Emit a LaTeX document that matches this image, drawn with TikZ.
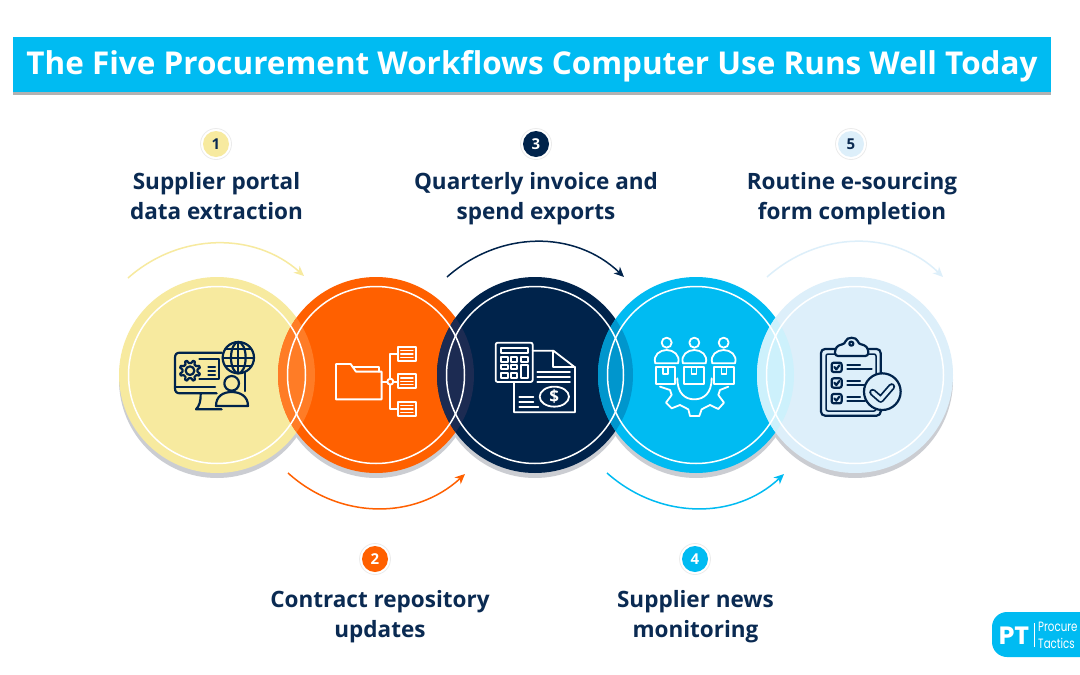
\documentclass[tikz,border=0pt]{standalone}
\usepackage{fontspec}
\setmainfont{Open Sans}
\newfontfamily\popf{Poppins}
\newfontfamily\popn[FakeStretch=0.76]{Poppins}
\usetikzlibrary{arrows.meta}
\definecolor{cyel}{HTML}{F7EA9F}
\definecolor{cora}{HTML}{FF6000}
\definecolor{cnav}{HTML}{00234B}
\definecolor{ccya}{HTML}{00BBF2}
\definecolor{cpal}{HTML}{DDEFFA}
\definecolor{ctxt}{HTML}{0A2A52}
\definecolor{cshd}{HTML}{CBCDD2}
\tikzset{
  disc/.style={circle,inner sep=0pt,minimum size=196pt,fill=#1},
  discshade/.style={circle,inner sep=0pt,minimum size=196pt,fill=cshd},
  ring/.style={draw=white,line width=1.5pt},
  flow/.style={draw=#1,line width=1.5pt,-{Stealth[length=10pt,width=9pt,inset=3pt]}},
  badge/.style={circle,inner sep=0pt,minimum size=26pt,fill=#1,font=\bfseries\fontsize{15}{15}\selectfont},
  halo/.style={circle,inner sep=0pt,minimum size=31pt,fill=white,draw=black!8,line width=.8pt},
  lab/.style={align=center,text=ctxt,font=\bfseries\fontsize{22.5}{30}\selectfont},
  ico/.style={line width=2.2pt,line join=round,line cap=round},
}
\begin{document}
\begin{tikzpicture}[x=1pt,y=-1pt]
\useasboundingbox (0,0) rectangle (1080,675);
\fill[white] (0,0) rectangle (1080,675);
% title
\fill[black!30] (13,39) rectangle (1051,94.5);
\node[inner sep=0pt,minimum width=1038pt,minimum height=55pt,fill=ccya] (titlebar) at (532,64.5) {};
\node[inner sep=0pt,text=white,font=\bfseries\fontsize{31.45}{31.45}\selectfont] (title) at (532,66) {The Five Procurement Workflows Computer Use Runs Well Today};
% shadows
\foreach \n/\x in {s1/217,s2/376,s3/535,s4/696,s5/855}{\node[discshade] (\n) at (\x,380) {};}
% discs
\node[disc=cyel] (c1) at (217,375) {};
\node[disc=cora] (c2) at (376,375) {};
\node[disc=cnav] (c3) at (535,375) {};
\node[disc=ccya] (c4) at (696,375) {};
\node[disc=cpal] (c5) at (855,375) {};
% lenses
\begin{scope}\clip (c1.center) circle[radius=98];\fill[color={rgb,255:red,255;green,124;blue,38}] (c2.center) circle[radius=98];\end{scope}
\begin{scope}\clip (c2.center) circle[radius=98];\fill[color={rgb,255:red,28;green,43;blue,82}] (c3.center) circle[radius=98];\end{scope}
\begin{scope}\clip (c3.center) circle[radius=98];\fill[color={rgb,255:red,0;green,150;blue,205}] (c4.center) circle[radius=98];\end{scope}
\begin{scope}\clip (c4.center) circle[radius=98];\fill[color={rgb,255:red,205;green,241;blue,252}] (c5.center) circle[radius=98];\end{scope}
% rings
\foreach \n in {c1,c2,c3,c4,c5}{\draw[ring] (\n.center) circle[radius=88.5];}
% arc end points
\coordinate (a1) at (128,278);\coordinate (b1) at (304,276);
\coordinate (a2) at (288,473);\coordinate (b2) at (465,474);
\coordinate (a3) at (447,277);\coordinate (b3) at (624,277);
\coordinate (a4) at (607,473);\coordinate (b4) at (784,474);
\coordinate (a5) at (767,277);\coordinate (b5) at (943,277);
\path[flow=cyel] (a1) .. controls (180,232) and (255,232) .. (b1);
\path[flow=cora] (a2) .. controls (340,520) and (415,520) .. (b2);
\path[flow=cnav] (a3) .. controls (500,230) and (575,230) .. (b3);
\path[flow=ccya] (a4) .. controls (660,520) and (735,520) .. (b4);
\path[flow=cpal] (a5) .. controls (820,230) and (895,230) .. (b5);
% badges
\node[halo] (h1) at (216,144) {};\node[badge=cyel,text=ctxt] (n1) at (216,144) {1};
\node[halo] (h2) at (375,559) {};\node[badge=cora,text=white] (n2) at (375,559) {2};
\node[halo] (h3) at (536,144) {};\node[badge=cnav,text=white] (n3) at (536,144) {3};
\node[halo] (h4) at (695,559) {};\node[badge=ccya,text=white] (n4) at (695,559) {4};
\node[halo] (h5) at (851,144) {};\node[badge=cpal,text=ctxt] (n5) at (851,144) {5};
% labels
\node[lab] (l1) at (216.5,196) {Supplier portal\\data extraction};
\node[lab] (l2) at (380,617) {Contract repository\\updates};
\node[lab] (l3) at (536,199) {Quarterly invoice and\\spend exports};
\node[lab] (l4) at (695.5,617) {Supplier news\\monitoring};
\node[lab] (l5) at (852,199) {Routine e-sourcing\\form completion};
% icon 1
\begin{scope}[shift={(160,330)},scale=1/3,ico,draw=cnav]
\draw (185,68) -- (60,68) .. controls (50,68) and (45,73) .. (45,83) -- (45,175) .. controls (45,185) and (50,190) .. (60,190) -- (170,190);
\draw (45,172) -- (165,172);
\draw (122,192) .. controls (122,215) and (118,228) .. (108,238) -- (185,238);
\draw (255,125) -- (255,183);
\draw (118,88) -- (178,88) -- (178,148) -- (118,148);
\draw (145,110) -- (165,110) (145,122) -- (165,122) (145,134) -- (165,134);
\draw (90,122) circle[radius=13];
\begin{scope}[shift={(90,122)}]
\draw (-9:23) -- (9:23) -- (17:31) -- (28:31) -- (36:23) -- (54:23) -- (62:31) -- (73:31) -- (81:23) -- (99:23) -- (107:31) -- (118:31) -- (126:23) -- (144:23) -- (152:31) -- (163:31) -- (171:23) -- (189:23) -- (197:31) -- (208:31) -- (216:23) -- (234:23) -- (242:31) -- (253:31) -- (261:23) -- (279:23) -- (287:31) -- (298:31) -- (306:23) -- (324:23) -- (332:31) -- (343:31) -- cycle;
\end{scope}
\draw[fill=cyel] (235,83) circle[radius=47];
\draw (235,83) ellipse[x radius=22,y radius=47];
\draw (235,36) -- (235,130) (188,83) -- (282,83);
\draw (197,57) -- (273,57) (197,109) -- (273,109);
\draw[fill=cyel] (168,228) .. controls (168,198) and (190,186) .. (215,186) .. controls (240,186) and (264,198) .. (264,228) -- cycle;
\draw[fill=cyel] (215,160) circle[radius=22];
\end{scope}
% icon 2
\begin{scope}[shift={(110,270)},scale=1/3,ico,draw=white,line width=1.9pt]
\draw (678,388) -- (678,282) -- (722,282) -- (738,305) -- (815,305) -- (815,388) -- cycle;
\draw (728,290) -- (808,290) -- (808,305);
\draw (815,335) -- (832,335) (850,335) -- (864,335);
\draw (841,326) -- (841,253) -- (864,253);
\draw (841,344) -- (841,418) -- (864,418);
\draw (841,335) circle[radius=9];
\foreach \y in {253,335,418}{
\draw (864,\y-22) rectangle (917,\y+20);
\draw[line width=1.3pt] (872,\y-11) -- (909,\y-11) (872,\y-1) -- (909,\y-1) (872,\y+9) -- (909,\y+9);
}
\end{scope}
% icon 3
\begin{scope}[shift={(430,270)},scale=1/3,ico,draw=white,line width=1.8pt]
\draw (308,242) -- (370,242) -- (435,292) -- (435,427) -- (252,427) -- (252,336);
\draw (370,242) -- (370,292) -- (435,292);
\draw (322,305) -- (420,305) (322,320) -- (420,320) (322,337) -- (420,337);
\draw (373,380) ellipse[x radius=44,y radius=30];
\node[text=white,inner sep=0pt,font=\bfseries\fontsize{17}{17}\selectfont] (dollar) at (373,380) {\$};
\draw (268,382) -- (310,382) (268,397) -- (310,397) (268,412) -- (325,412);
\draw[rounded corners=2pt] (197,218) rectangle (308,336);
\draw (213,233) rectangle (293,250);
\foreach \x/\w in {213/20,243/19}{\foreach \y/\h in {262/14,285/13,308/15}{\draw (\x,\y) rectangle (\x+\w,\y+\h);}}
\draw (272,262) rectangle (293,276);
\draw (272,285) rectangle (293,323);
\end{scope}
% icon 4
\begin{scope}[shift={(430,270)},scale=1/3,ico,draw=white,line width=1.8pt]
\foreach \x/\b in {710/677,793/763,881/852}{
\draw (\x,218) circle[radius=15];
\draw (\x-34,280) .. controls (\x-42,255) and (\x-20,240) .. (\x,240) .. controls (\x+20,240) and (\x+42,255) .. (\x+34,280) -- cycle;
\draw (\b,292) rectangle (\b+59,343);
\draw[line width=1.2pt] (\b+22,292) -- (\b+22,312) -- (\b+37,312) -- (\b+37,292);
}
\draw (742,325) .. controls (742,370) and (765,388) .. (793,388) .. controls (821,388) and (845,370) .. (845,325);
\draw (690,350) -- (720,360) -- (725,375) -- (708,398) -- (725,415) -- (750,405) -- (775,418) -- (780,438) -- (808,438) -- (815,418) -- (840,405) -- (865,417) -- (882,398) -- (865,375) -- (870,360) -- (895,350);
\end{scope}
% icon 5
\begin{scope}[shift={(750,270)},scale=1/3,ico,draw=cnav]
\draw[rounded corners=4pt] (213,237) rectangle (392,437);
\draw[rounded corners=2pt,line width=1.5pt] (228,252) rectangle (378,423);
\draw[fill=cpal,rounded corners=3pt] (255,258) -- (255,238) -- (265,225) -- (285,222) .. controls (290,200) and (320,200) .. (325,222) -- (345,225) -- (355,238) -- (355,258) -- cycle;
\draw (304,221) circle[radius=6];
\foreach \y in {278,325,372}{
\draw[rounded corners=2pt] (245,\y) rectangle (275,\y+28);
\draw (253,\y+13) -- (259,\y+20) -- (268,\y+8);
}
\draw (292,286) -- (330,286) (292,297) -- (365,297);
\draw (292,333) -- (330,333) (292,345) -- (345,345);
\draw (292,380) -- (330,380) (292,392) -- (345,392);
\draw[fill=cpal] (397,365) circle[radius=55];
\draw[line width=7pt,line cap=round] (368,367) -- (392,388) -- (425,350);
\draw[line width=3.4pt,line cap=round,draw=cpal] (368,367) -- (392,388) -- (425,350);
\end{scope}
% logo
\begin{scope}
\clip (0,0) rectangle (1080,675);
\fill[ccya,rounded corners=15pt] (992,612) rectangle (1100,657);
\end{scope}
\node[text=white,inner sep=0pt,font=\popf\bfseries\fontsize{25}{25}\selectfont] (pt) at (1014,635.5) {PT};
\draw[white,line width=.7pt] (1034,623) -- (1034,647);
\node[anchor=west,text=white,inner sep=0pt,font=\popn\fontsize{13.5}{13.5}\selectfont] (pa) at (1038,627) {Procure};
\node[anchor=west,text=white,inner sep=0pt,font=\popn\fontsize{13.5}{13.5}\selectfont] (pb) at (1038,643) {Tactics};
\end{tikzpicture}
\end{document}
